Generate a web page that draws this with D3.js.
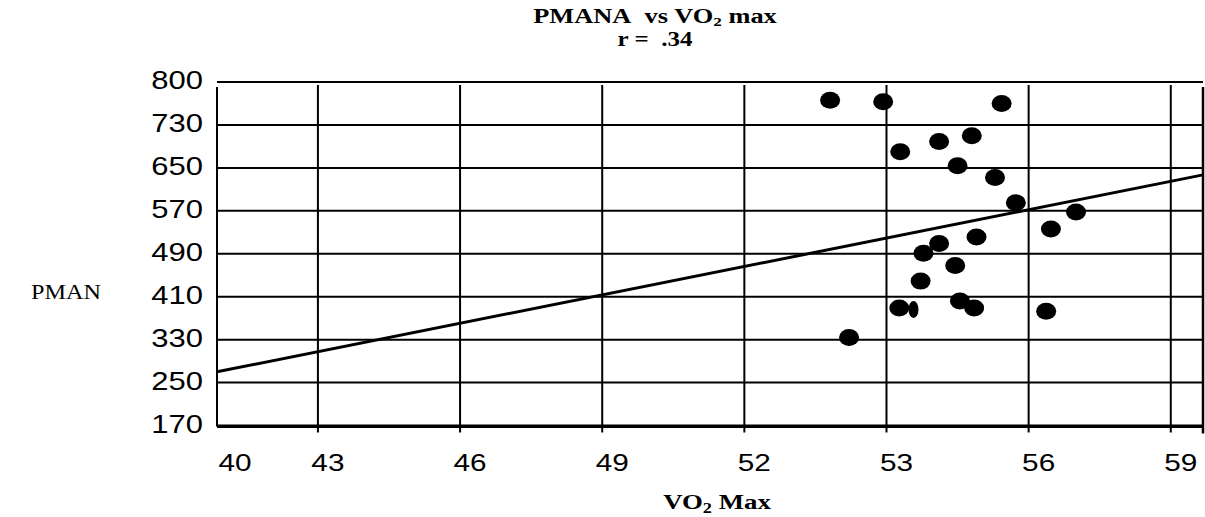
<!DOCTYPE html>
<html>
<head>
<meta charset="utf-8">
<script src="https://cdn.jsdelivr.net/npm/d3@7"></script>
<style>
  html, body { margin: 0; padding: 0; background: #fff; }
  svg { display: block; }
</style>
</head>
<body>
<svg id="chart" width="1205" height="517"></svg>
<script>
// ---- data ----
const vo2Max = [53.81, 54.93, 57.43, 55.29, 56.11, 56.80, 56.50, 57.29, 57.73, 59.00, 58.47,
                56.90, 56.11, 55.78, 56.45, 55.72, 55.27, 55.57, 56.55, 56.85, 58.37, 54.21];
const pman   = [776, 773, 770, 680, 699, 710, 654, 632, 585, 568, 536,
                521, 509, 491, 468, 439, 389, 386, 402, 389, 383, 334];
const trendX = [40.87, 61.68];
const trendY = [270, 637];
const xDomain = [40.87, 61.68];
const xTicks = [40.87, 43, 46, 49, 52, 55, 58, 61];
const xTickLabels = ["40", "43", "46", "49", "52", "53", "56", "59"];
const yDomain = [170, 810];
const yTicks = [170, 250, 330, 410, 490, 570, 650, 730, 810];
const yTickLabels = ["170", "250", "330", "410", "490", "570", "650", "730", "800"];

// ---- layout ----
const L = 217, R = 1203, T = 82, B = 425.5;
const svg = d3.select("#chart");
const x = d3.scaleLinear().domain(xDomain).range([L, R]);
const y = d3.scaleLinear().domain(yDomain).range([B, T]);

const sans = "'Liberation Sans', Arial, sans-serif";
const serif = "'Liberation Serif', 'Times New Roman', serif";

// horizontal gridlines
svg.append("g").selectAll("line").data(yTicks).join("line")
  .attr("x1", L).attr("x2", R)
  .attr("y1", d => y(d)).attr("y2", d => y(d))
  .attr("stroke", "#000").attr("stroke-width", 2);

// vertical gridlines (extend below as ticks)
svg.append("g").selectAll("line").data(xTicks.slice(1)).join("line")
  .attr("x1", d => x(d)).attr("x2", d => x(d))
  .attr("y1", T + 3).attr("y2", B + 7)
  .attr("stroke", "#000").attr("stroke-width", 2);

// left axis, bottom axis, right border
svg.append("line").attr("x1", L).attr("x2", L).attr("y1", T + 5).attr("y2", B + 1)
  .attr("stroke", "#000").attr("stroke-width", 2);
svg.append("line").attr("x1", L).attr("x2", R).attr("y1", B + 1).attr("y2", B + 1)
  .attr("stroke", "#000").attr("stroke-width", 3);
svg.append("line").attr("x1", R).attr("x2", R).attr("y1", T + 5).attr("y2", B + 8)
  .attr("stroke", "#000").attr("stroke-width", 2.5);

// y tick labels
svg.append("g").selectAll("text").data(yTicks).join("text")
  .attr("transform", d => `translate(203,${y(d) + 7}) scale(1.24,1)`)
  .attr("text-anchor", "end")
  .attr("font-family", sans).attr("font-size", 25)
  .text((d, i) => yTickLabels[i]);

// x tick labels
svg.append("g").selectAll("text").data(xTicks).join("text")
  .attr("transform", (d, i) => `translate(${x(d) + (i === 0 ? 18 : 10)},471) scale(1.24,1)`)
  .attr("text-anchor", "middle")
  .attr("font-family", sans).attr("font-size", 24)
  .text((d, i) => xTickLabels[i]);

// trend line
svg.append("path")
  .datum(trendX.map((v, i) => [v, trendY[i]]))
  .attr("d", d3.line().x(d => x(d[0])).y(d => y(d[1])))
  .attr("fill", "none").attr("stroke", "#000").attr("stroke-width", 3);

// points
const narrowIdx = 17;
svg.append("g").selectAll("ellipse").data(vo2Max).join("ellipse")
  .attr("cx", d => x(d)).attr("cy", (d, i) => y(pman[i]))
  .attr("rx", (d, i) => i === narrowIdx ? 5 : 10).attr("ry", 8.5)
  .attr("fill", "#000");

// titles
const title = svg.append("text")
  .attr("transform", "translate(655,23) scale(1.32,1)")
  .attr("text-anchor", "middle")
  .attr("font-family", serif).attr("font-weight", "bold").attr("font-size", 20);
title.append("tspan").text("PMANA\u00A0 vs VO");
title.append("tspan").attr("font-size", 13).attr("dy", 3).text("2");
title.append("tspan").attr("dy", -3).text(" max");

svg.append("text")
  .attr("transform", "translate(655,46) scale(1.25,1)")
  .attr("text-anchor", "middle")
  .attr("font-family", serif).attr("font-weight", "bold").attr("font-size", 20)
  .text("r = \u00A0.34");

const xt = svg.append("text")
  .attr("transform", "translate(717,509) scale(1.22,1)")
  .attr("text-anchor", "middle")
  .attr("font-family", serif).attr("font-weight", "bold").attr("font-size", 22);
xt.append("tspan").text("VO");
xt.append("tspan").attr("font-size", 15).attr("dy", 4).text("2");
xt.append("tspan").attr("dy", -4).text(" Max");

svg.append("text")
  .attr("transform", "translate(101,299) scale(1.1,1)")
  .attr("text-anchor", "end")
  .attr("font-family", serif).attr("font-size", 22)
  .text("PMAN");
</script>
</body>
</html>
